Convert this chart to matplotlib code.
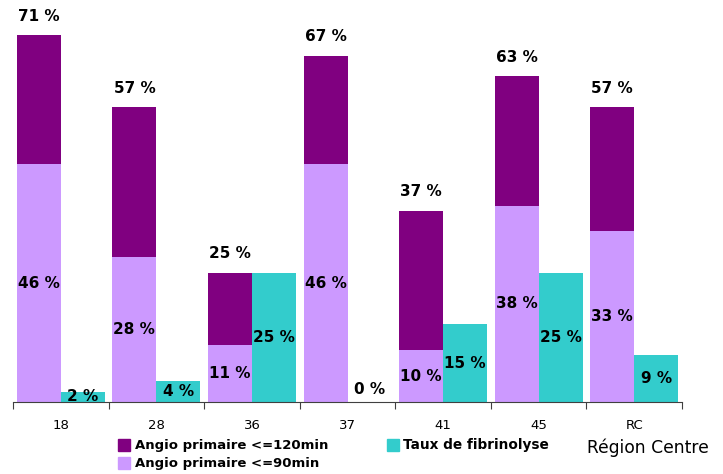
import matplotlib
matplotlib.use("Agg")
import matplotlib.pyplot as plt
from matplotlib.patches import Rectangle
import numpy as np

categories = ["18", "28", "36", "37", "41", "45", "RC"]
angio_120 = [71, 57, 25, 67, 37, 63, 57]
angio_90 = [46, 28, 11, 46, 10, 38, 33]
fibrinolyse = [2, 4, 25, 0, 15, 25, 9]

c_dark = "#800080"
c_light = "#CC99FF"
c_teal = "#33CCCC"

fig = plt.figure(figsize=(7.23, 4.74), dpi=100)
ax = fig.add_axes([13/723, 1 - 402/474, (682-13)/723, 402/474])

x = np.arange(len(categories))
w = 0.46
xl = x - w/2
xt = x + w/2

ax.bar(xl, angio_90, width=w, color=c_light, zorder=2)
ax.bar(xl, np.array(angio_120) - np.array(angio_90), bottom=angio_90, width=w, color=c_dark, zorder=2)
ax.bar(xt, fibrinolyse, width=w, color=c_teal, zorder=2)

fs = 11
for i in range(len(categories)):
    ax.text(xl[i], angio_120[i] + 2.2, f"{angio_120[i]} %", ha="center", va="bottom",
            fontsize=fs, fontweight="bold")
    ax.text(xl[i], angio_90[i] / 2, f"{angio_90[i]} %", ha="center", va="center",
            fontsize=fs, fontweight="bold")
    v = fibrinolyse[i]
    if v == 0:
        ax.text(xt[i], 1.0, f"{v} %", ha="center", va="bottom", fontsize=fs, fontweight="bold")
    else:
        ax.text(xt[i], v / 2, f"{v} %", ha="center", va="center", fontsize=fs, fontweight="bold")

ax.set_xlim(-0.5, len(categories) - 0.5)
ax.set_ylim(0, 402/5.17)
for s in ["top", "right", "left"]:
    ax.spines[s].set_visible(False)
ax.spines["bottom"].set_color("#404040")
ax.set_yticks([])
ax.set_xticks(np.arange(-0.5, len(categories), 1.0))
ax.set_xticklabels([])
ax.set_xticks(x, minor=True)
ax.set_xticklabels(categories, minor=True, fontsize=9.5)
ax.tick_params(axis="x", which="major", length=5, direction="out", color="#404040")
ax.tick_params(axis="x", which="minor", length=0, pad=12)

# legend
W, H = 723, 474
def sq(xp, yp, col):
    fig.patches.append(Rectangle((xp/W, 1 - (yp+12)/H), 12/W, 12/H, transform=fig.transFigure,
                                 color=col, figure=fig))
sq(118, 439, c_dark)
sq(118, 457, c_light)
sq(387, 439, c_teal)
fig.text(135/W, 1 - 445/H, "Angio primaire <=120min", fontsize=9.5, fontweight="bold", va="center")
fig.text(135/W, 1 - 463/H, "Angio primaire <=90min", fontsize=9.5, fontweight="bold", va="center")
fig.text(403/W, 1 - 445/H, "Taux de fibrinolyse", fontsize=9.8, fontweight="bold", va="center")
fig.text(587/W, 1 - 448/H, "Région Centre", fontsize=12.3, va="center")

fig.savefig("out.png", dpi=100)
